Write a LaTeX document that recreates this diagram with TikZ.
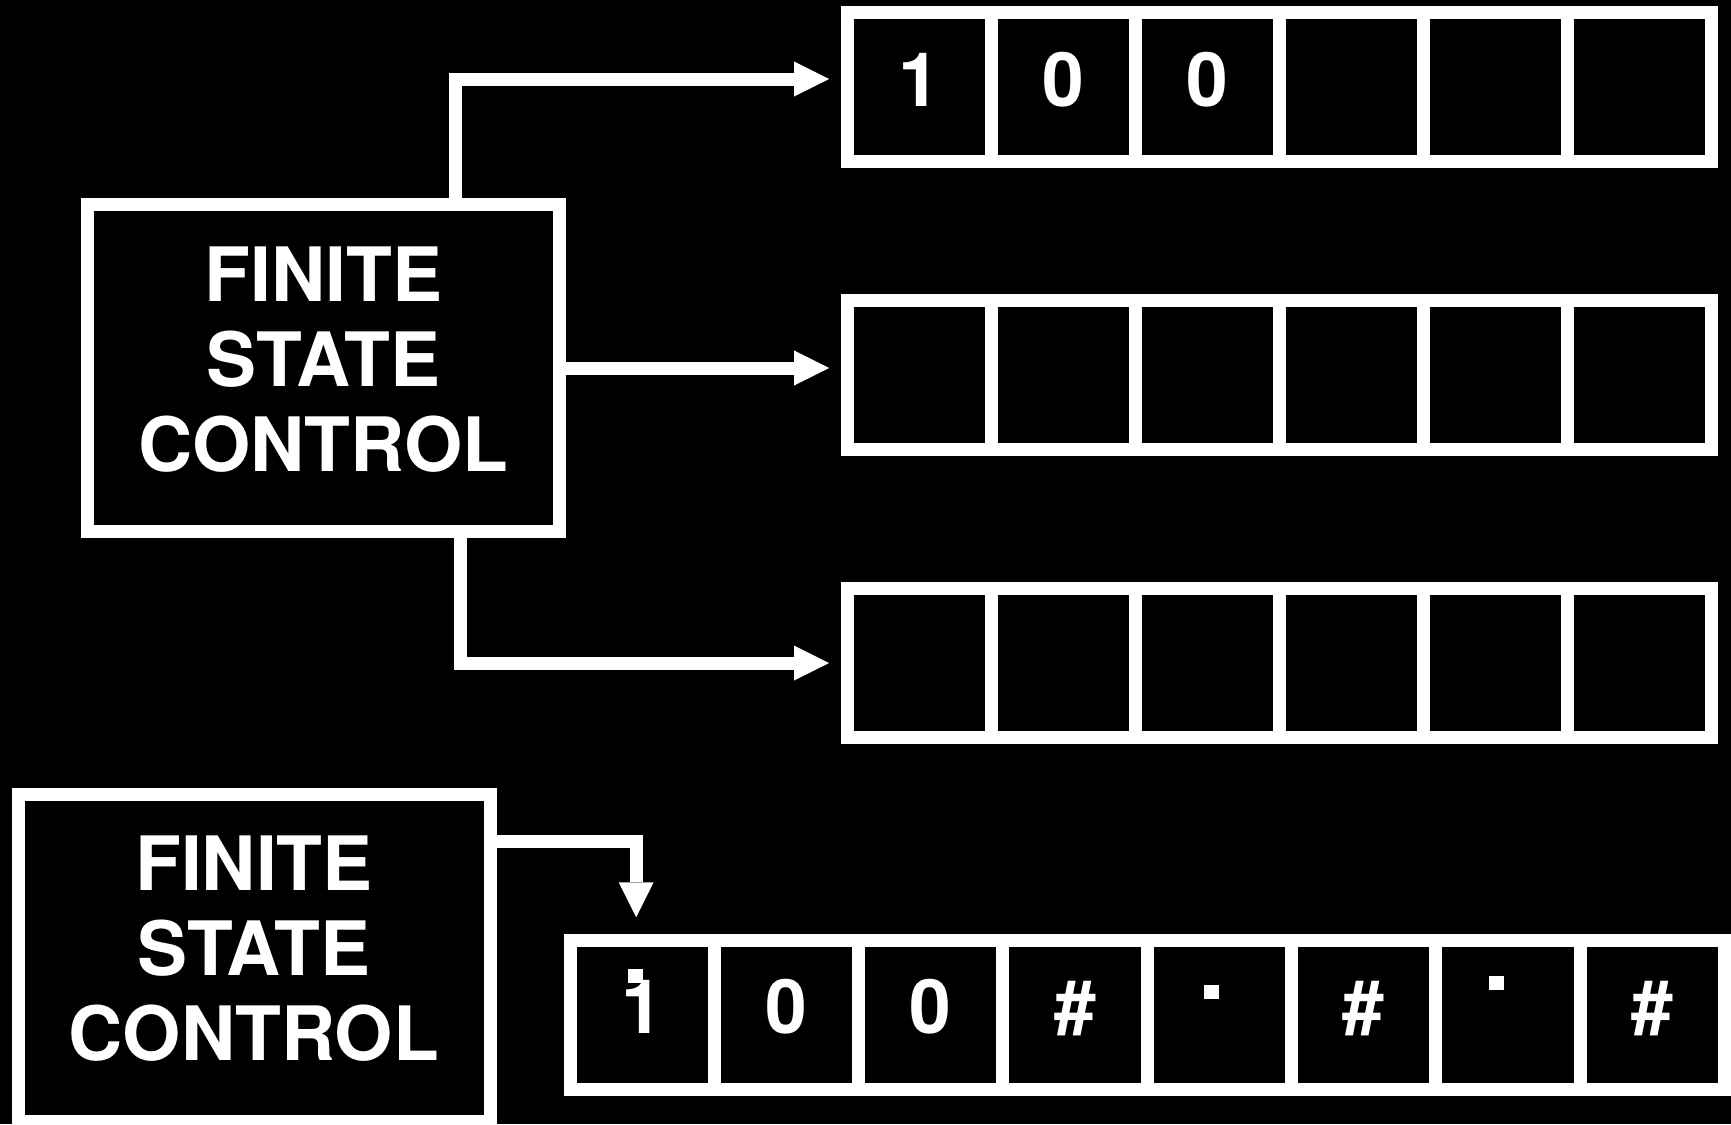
\documentclass[tikz,border=0pt]{standalone}
\usepackage{fontspec}
\setmainfont{TeX Gyre Heros}
\usepackage{tikz}
\usetikzlibrary{arrows.meta, positioning}

\begin{document}
\begin{tikzpicture}[
    x=1pt, y=-1pt,
    every node/.style={outer sep=0pt, text=white},
    fsc/.style={rectangle, draw=white, line width=13pt, minimum width=472pt,
                minimum height=327pt, inner sep=0pt},
    fsctext/.style={align=center, inner sep=0pt,
                    font=\fontsize{75pt}{85pt}\selectfont\bfseries},
    cell/.style={rectangle, draw=white, line width=13pt, minimum width=144pt,
                 minimum height=149pt, inner sep=0pt, text height=54pt, text depth=16pt,
                 font=\fontsize{75pt}{85pt}\selectfont\bfseries},
    bcell/.style={cell, minimum width=144.3pt},
    headmark/.style={rectangle, fill=white, minimum width=15pt, minimum height=14pt,
                     inner sep=0pt, anchor=north west},
    arrow/.style={-{Triangle[length=35pt, width=35pt, line width=0pt]},
                  line width=13pt, draw=white},
]
\path[use as bounding box, fill=black] (0,0) rectangle (1731,1124);

% Finite state control (top)
\node[fsc] (fsc1) at (323.5, 368) {};
\node[fsctext] (fsc1text) at ([yshift=8.6pt]fsc1.center) {FINITE\\STATE\\CONTROL};

% Tape 1
\node[cell] (t1c1) at (919, 87) {1};
\node[cell, right=0pt of t1c1] (t1c2) {0};
\node[cell, right=0pt of t1c2] (t1c3) {0};
\node[cell, right=0pt of t1c3] (t1c4) {};
\node[cell, right=0pt of t1c4] (t1c5) {};
\node[cell, right=0pt of t1c5] (t1c6) {};

% Tape 2
\node[cell, below=139pt of t1c1] (t2c1) {};
\node[cell, right=0pt of t2c1] (t2c2) {};
\node[cell, right=0pt of t2c2] (t2c3) {};
\node[cell, right=0pt of t2c3] (t2c4) {};
\node[cell, right=0pt of t2c4] (t2c5) {};
\node[cell, right=0pt of t2c5] (t2c6) {};

% Tape 3
\node[cell, below=139pt of t2c1] (t3c1) {};
\node[cell, right=0pt of t3c1] (t3c2) {};
\node[cell, right=0pt of t3c2] (t3c3) {};
\node[cell, right=0pt of t3c3] (t3c4) {};
\node[cell, right=0pt of t3c4] (t3c5) {};
\node[cell, right=0pt of t3c5] (t3c6) {};

% Heads of the three tapes
\draw[arrow, shorten >=18pt] ([xshift=132pt]fsc1.north) |- ([yshift=8pt]t1c1.west);
\draw[arrow, shorten >=18pt] (fsc1.east) -- (fsc1.east -| t2c1.west);
\draw[arrow, shorten >=18pt] ([xshift=137pt]fsc1.south) |- (t3c1.west);

% Finite state control (bottom)
\node[fsc] (fsc2) at (254, 957.5) {};
\node[fsctext] (fsc2text) at ([yshift=8.6pt]fsc2.center) {FINITE\\STATE\\CONTROL};

% Single tape
\node[bcell] (b1) at (642.15, 1014.75) {1};
\node[bcell, right=0pt of b1] (b2) {0};
\node[bcell, right=0pt of b2] (b3) {0};
\node[bcell, right=0pt of b3] (b4) {\#};
\node[bcell, right=0pt of b4] (b5) {};
\node[bcell, right=0pt of b5] (b6) {\#};
\node[bcell, right=0pt of b6] (b7) {};
\node[bcell, right=0pt of b7] (b8) {\#};

% Head marks
\node[headmark] (mark1) at ([shift={(-14.2,-45.75)}]b1.center) {};
\node[headmark] (mark5) at ([shift={(-15.4,-29.75)}]b5.center) {};
\node[headmark] (mark7) at ([shift={(-19,-38.75)}]b7.center) {};

% Head of the single tape
\draw[arrow, shorten >=23pt] ([yshift=-47.5pt]fsc2.north east) -| ([xshift=-6pt]b1.north);

\end{tikzpicture}
\end{document}
